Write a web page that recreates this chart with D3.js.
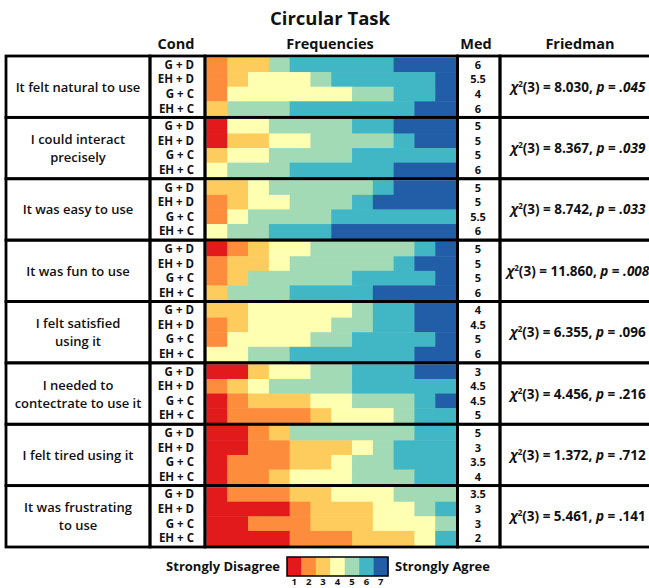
<!DOCTYPE html>
<html>
<head>
<meta charset="utf-8">
<script src="https://cdn.jsdelivr.net/npm/d3@7"></script>
<style>
  body { margin: 0; background: #fff; }
  text { font-family: "Open Sans", sans-serif; fill: #111; }
</style>
</head>
<body>
<div id="chart"></div>
<script>
const questions = [
  ["It felt natural to use"],
  ["I could interact", "precisely"],
  ["It was easy to use"],
  ["It was fun to use"],
  ["I felt satisfied", "using it"],
  ["I needed to", "contectrate to use it"],
  ["I felt tired using it"],
  ["It was frustrating", "to use"]
];
const conds = ["G + D", "EH + D", "G + C", "EH + C"];
const levels = [1, 2, 3, 4, 5, 6, 7];
const levelColors = ["#e31a1c", "#fd8d3c", "#fecc5c", "#ffffb2", "#a1dab4", "#41b6c4", "#225ea8"];

// counts of answers 1..7 per condition (12 participants)
const counts = [
  [[0,1,2,0,1,5,3], [0,1,1,3,1,5,1], [0,1,0,6,2,2,1], [0,0,1,0,3,6,2]],
  [[1,0,0,2,4,2,3], [1,0,2,2,4,1,2], [0,0,1,2,4,5,0], [0,0,0,1,3,5,3]],
  [[0,0,2,1,5,1,3], [0,1,1,2,3,1,4], [0,1,0,1,4,6,0], [0,0,0,1,2,3,6]],
  [[1,1,1,2,5,1,1], [0,1,2,1,5,1,2], [0,1,1,0,5,4,1], [0,0,1,0,3,4,4]],
  [[0,0,2,5,1,2,2], [0,1,1,4,2,2,2], [0,1,0,4,2,4,1], [0,0,0,2,2,6,2]],
  [[2,0,1,2,2,3,2], [0,1,1,1,4,5,0], [1,1,3,2,3,1,1], [1,4,1,3,1,2,0]],
  [[2,1,1,0,6,2,0], [2,2,3,1,1,3,0], [1,3,2,1,2,3,0], [1,2,1,3,3,2,0]],
  [[1,3,2,3,3,0,0], [4,1,3,2,1,1,0], [2,3,3,3,1,0,0], [4,3,3,1,0,1,0]]
];
const medians = [
  ["6","5.5","4","6"], ["5","5","5","6"], ["5","5","5.5","6"], ["5","5","5","6"],
  ["4","4.5","5","6"], ["3","4.5","4.5","5"], ["5","3","3.5","4"], ["3.5","3","3","2"]
];
const chiValues = ["8.030", "8.367", "8.742", "11.860", "6.355", "4.456", "1.372", "5.461"];
const pValues = [".045", ".039", ".033", ".008", ".096", ".216", ".712", ".141"];
const pSignificant = [true, true, true, true, false, false, false, false];

const width = 649, height = 588;

const svg = d3.select("#chart")
  .append("svg")
  .attr("width", width)
  .attr("height", height);

const cols = {
  q: [6, 150],
  cond: [150, 205],
  bar: [205, 457.5],
  med: [457.5, 500],
  fr: [500, 662]
};

const y = d3.scaleBand()
  .domain(d3.range(questions.length))
  .range([56, 547]);

const x = d3.scaleLinear()
  .domain([0, 12])
  .range([cols.bar[0] + 1.5, cols.bar[1] - 1.5]);

const color = d3.scaleOrdinal().domain(levels).range(levelColors);

// Title and headers
svg.append("text")
  .attr("x", 330).attr("y", 25)
  .attr("text-anchor", "middle")
  .style("font-size", "18.5px").style("font-weight", 700)
  .text("Circular Task");

const headers = [["Cond", 176], ["Frequencies", 330], ["Med", 476], ["Friedman", 580]];
svg.selectAll("text.header")
  .data(headers)
  .enter()
  .append("text")
  .attr("class", "header")
  .attr("x", d => d[1]).attr("y", 49)
  .attr("text-anchor", "middle")
  .style("font-size", "14.5px").style("font-weight", 700)
  .text(d => d[0]);

const blocks = svg.selectAll("g.block")
  .data(questions)
  .enter()
  .append("g")
  .attr("class", "block")
  .attr("transform", (d, i) => `translate(0,${y(i)})`);

const bh = y.bandwidth();
const row = d3.scaleBand()
  .domain(d3.range(conds.length))
  .range([1.5, bh - 1.5]);

// bars
blocks.each(function(q, qi) {
  const g = d3.select(this);
  counts[qi].forEach((c, ci) => {
    const ends = d3.cumsum(c);
    const segs = c.map((v, li) => ({level: levels[li], x0: ends[li] - v, x1: ends[li]}))
      .filter(s => s.x1 > s.x0);
    g.selectAll(null)
      .data(segs)
      .enter()
      .append("rect")
      .attr("x", s => x(s.x0))
      .attr("width", s => x(s.x1) - x(s.x0) + 0.5)
      .attr("y", row(ci))
      .attr("height", row.bandwidth() + 0.5)
      .attr("fill", s => color(s.level));
  });
});

// cell borders
Object.values(cols).forEach(([a, b]) => {
  blocks.append("rect")
    .attr("x", a).attr("y", 0)
    .attr("width", b - a).attr("height", bh)
    .attr("fill", "none")
    .attr("stroke", "#000")
    .attr("stroke-width", 2.8);
});

// question labels
blocks.each(function(q) {
  const t = d3.select(this).append("text")
    .attr("x", (cols.q[0] + cols.q[1]) / 2)
    .attr("text-anchor", "middle")
    .style("font-size", "13px").style("font-weight", 600);
  const lh = 18;
  const start = bh / 2 + 5 - (q.length - 1) * lh / 2;
  q.forEach((line, li) => {
    t.append("tspan")
      .attr("x", (cols.q[0] + cols.q[1]) / 2)
      .attr("y", start + li * lh)
      .text(line);
  });
});

// condition labels and medians
blocks.each(function(q, qi) {
  const g = d3.select(this);
  g.selectAll("text.cond")
    .data(conds)
    .enter()
    .append("text")
    .attr("class", "cond")
    .attr("x", 194)
    .attr("y", (d, i) => row(i) + row.bandwidth() / 2 + 4)
    .attr("text-anchor", "end")
    .style("font-size", "11.5px").style("font-weight", 700)
    .text(d => d);
  g.selectAll("text.med")
    .data(medians[qi])
    .enter()
    .append("text")
    .attr("class", "med")
    .attr("x", 478)
    .attr("y", (d, i) => row(i) + row.bandwidth() / 2 + 4)
    .attr("text-anchor", "middle")
    .style("font-size", "11px").style("font-weight", 700)
    .text(d => d);

  // Friedman result
  const t = g.append("text")
    .attr("x", 578)
    .attr("y", bh / 2 + 5)
    .attr("text-anchor", "middle")
    .style("font-size", "13.5px").style("font-weight", 700);
  t.append("tspan").style("font-style", "italic").text("χ");
  t.append("tspan").attr("dy", -5).style("font-size", "8px").text("2");
  t.append("tspan").attr("dy", 5).text(`(3) = ${chiValues[qi]}, `);
  t.append("tspan").style("font-style", "italic").text("p");
  t.append("tspan").text(" = ");
  t.append("tspan")
    .style("font-style", pSignificant[qi] ? "italic" : "normal")
    .text(pValues[qi]);
});

// legend
const lx = d3.scaleBand().domain(levels).range([287, 388]);
const legend = svg.append("g").attr("transform", "translate(0,557)");
legend.selectAll("rect.key")
  .data(levels)
  .enter()
  .append("rect")
  .attr("class", "key")
  .attr("x", d => lx(d)).attr("y", 0)
  .attr("width", lx.bandwidth() + 0.3).attr("height", 19)
  .attr("fill", d => color(d));
legend.append("rect")
  .attr("x", 287).attr("y", 0)
  .attr("width", 101).attr("height", 19)
  .attr("fill", "none").attr("stroke", "#000").attr("stroke-width", 1.5);
legend.selectAll("text.num")
  .data(levels)
  .enter()
  .append("text")
  .attr("class", "num")
  .attr("x", d => lx(d) + lx.bandwidth() / 2)
  .attr("y", 28)
  .attr("text-anchor", "middle")
  .style("font-size", "9.5px").style("font-weight", 700)
  .text(d => d);
legend.append("text")
  .attr("x", 280).attr("y", 14)
  .attr("text-anchor", "end")
  .style("font-size", "13px").style("font-weight", 700)
  .text("Strongly Disagree");
legend.append("text")
  .attr("x", 395).attr("y", 14)
  .style("font-size", "13px").style("font-weight", 700)
  .text("Strongly Agree");
</script>
</body>
</html>
